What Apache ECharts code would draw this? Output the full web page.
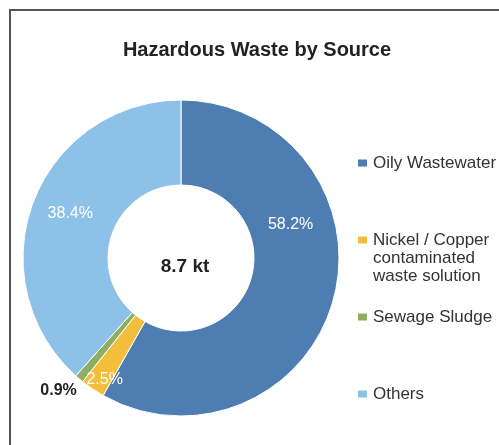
<!DOCTYPE html>
<html>
<head>
<meta charset="utf-8">
<script src="https://cdn.jsdelivr.net/npm/echarts@6/dist/echarts.min.js"></script>
<style>
  html, body { margin: 0; padding: 0; background: #fff; }
  #chart { width: 499px; height: 445px; }
</style>
</head>
<body>
<div id="chart"></div>
<script>
const categories = ['Oily Wastewater', 'Nickel / Copper contaminated waste solution', 'Sewage Sludge', 'Others']
const legendLabels = ['Oily Wastewater', 'Nickel / Copper\ncontaminated\nwaste solution', 'Sewage Sludge', 'Others']
const shares = [58.2, 2.5, 0.9, 38.4]
const colors = ['#4E7DB1', '#F3BE3B', '#8DAF62', '#8EC1E8']
const total = '8.7 kt'

const font = '"Liberation Sans", Arial, sans-serif'

// label nudges, one per slice
const labelShift = [
  { dx: -5, dy: -64 },
  { dx: -10, dy: 23 },
  { dx: -46, dy: 42 },
  { dx: 0, dy: -2 },
]

const markerY = [163, 240, 317, 394]
const lineH = 18

const chart = echarts.init(document.getElementById('chart'))

// one legend per item so the marker sits on the first line of the wrapped label
const legends = categories.map((name, i) => {
  const lines = legendLabels[i].split('\n').length
  return {
    orient: 'vertical',
    left: 351,
    top: markerY[i] - 5 - lineH / 2 - lineH * (lines - 1),
    data: [name],
    icon: 'rect',
    itemWidth: 11,
    itemHeight: 9,
    itemGap: 0,
    formatter: () => '\n'.repeat(lines - 1) + legendLabels[i],
    selectedMode: false,
    textStyle: {
      fontFamily: font,
      fontSize: 17,
      color: '#333',
      lineHeight: lineH,
    },
  }
})

const option = {
  animation: false,
  color: colors,
  title: [
    {
      text: 'Hazardous Waste by Source',
      left: 252,
      top: 35,
      textAlign: 'center',
      textStyle: { fontFamily: font, fontSize: 20, fontWeight: 'bold', color: '#222' },
    },
    {
      text: total,
      left: 180,
      top: 252,
      textAlign: 'center',
      textStyle: { fontFamily: font, fontSize: 19, fontWeight: 'bold', color: '#222' },
    },
  ],
  legend: legends,
  graphic: [
    {
      type: 'rect',
      shape: { x: 10, y: 10, width: 600, height: 600 },
      style: { fill: 'none', stroke: '#555', lineWidth: 2 },
      silent: true,
    },
  ],
  series: [
    {
      type: 'pie',
      center: [181, 258],
      radius: [73, 158],
      startAngle: 90,
      clockwise: true,
      avoidLabelOverlap: false,
      itemStyle: { borderColor: '#fff', borderWidth: 1 },
      label: {
        show: true,
        position: 'inside',
        formatter: '{c}%',
        fontFamily: font,
        fontSize: 16,
        color: '#fff',
      },
      labelLine: { show: false },
      labelLayout: (p) => labelShift[p.dataIndex],
      emphasis: { disabled: true },
      data: categories.map((name, i) => ({
        name: name,
        value: shares[i],
        label: i === 2 ? { color: '#222', fontWeight: 'bold' } : {},
      })),
    },
  ],
}

chart.setOption(option)
</script>
</body>
</html>
